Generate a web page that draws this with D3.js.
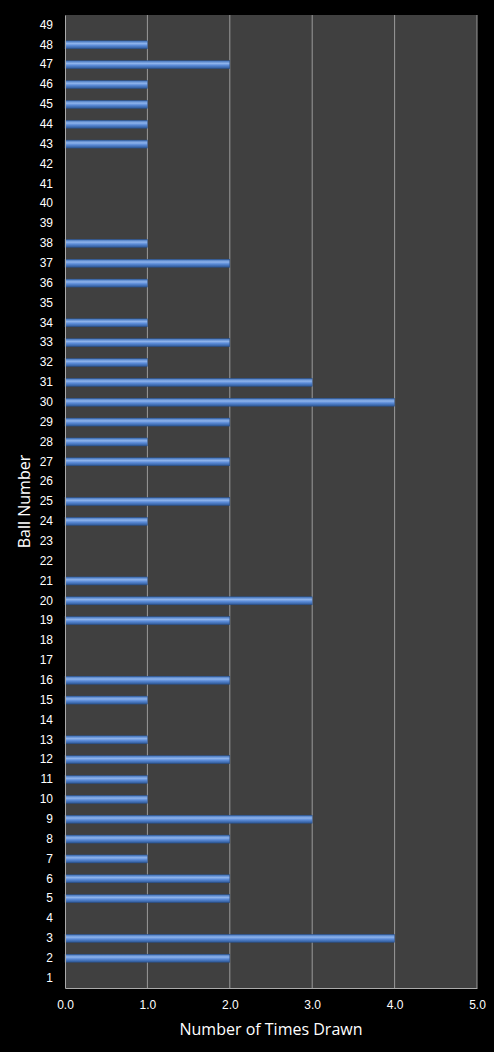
<!DOCTYPE html><html><head><script src="https://cdn.jsdelivr.net/npm/d3@7"></script>
<style>body{margin:0;background:#000}</style></head><body><svg id="c" width="494" height="1052"></svg>
<script>
const balls = d3.range(1,50);
const counts = [0,2,4,0,2,2,1,2,3,1,1,2,1,0,1,2,0,0,2,3,1,0,0,1,2,0,2,1,2,4,3,1,2,1,0,1,2,1,0,0,0,0,1,1,1,1,2,1,0];
const xTicks = [0,1,2,3,4,5];
const svg = d3.select("#c");
const m={l:65,r:477,t:15,b:988};
const x=d3.scaleLinear().domain([0,5]).range([m.l,m.r]);
const y=d3.scaleBand().domain(balls.slice().reverse()).range([m.t,m.b]);
const defs=svg.append("defs");
const g=defs.append("linearGradient").attr("id","bg").attr("x1",0).attr("x2",0).attr("y1",0).attr("y2",1);
g.append("stop").attr("offset","0%").attr("stop-color","#3d6fb8");
g.append("stop").attr("offset","35%").attr("stop-color","#8fb4ec");
g.append("stop").attr("offset","60%").attr("stop-color","#5a8ad6");
g.append("stop").attr("offset","100%").attr("stop-color","#2c5796");
svg.append("rect").attr("x",m.l).attr("y",m.t).attr("width",m.r-m.l).attr("height",m.b-m.t).attr("fill","#404040");
svg.selectAll(".gl").data(xTicks.slice(1)).join("line").attr("x1",d=>x(d)).attr("x2",d=>x(d)).attr("y1",m.t).attr("y2",m.b).attr("stroke","#9a9a9a").attr("stroke-width",1);
svg.selectAll(".bar").data(balls.filter((b,i)=>counts[i]>0)).join("rect")
 .attr("x",m.l).attr("y",d=>y(d)+y.bandwidth()/2-4).attr("height",8)
 .attr("width",d=>x(counts[d-1])-m.l).attr("fill","url(#bg)").attr("stroke","#2a4f86").attr("stroke-width",0.5);
const xa=svg.append("g").attr("transform",`translate(0,${m.b})`).call(d3.axisBottom(x).tickValues(xTicks).tickSize(0).tickPadding(12));
const ya=svg.append("g").attr("transform",`translate(${m.l},0)`).call(d3.axisLeft(y).tickSize(0).tickPadding(12));
[xa,ya].forEach(a=>{a.selectAll("text").attr("fill","#fff").style("font-family","Liberation Sans, Arial").style("font-size","12px");a.select(".domain").attr("stroke","#aaa");});
svg.append("text").attr("x",(m.l+m.r)/2).attr("y",1035).attr("text-anchor","middle").attr("fill","#fff").style("font-family","Open Sans, sans-serif").style("font-size","16px").text("Number of Times Drawn");
svg.append("text").attr("transform",`translate(30,${(m.t+m.b)/2}) rotate(-90)`).attr("text-anchor","middle").attr("fill","#fff").style("font-family","Open Sans, sans-serif").style("font-size","16px").text("Ball Number");
</script></body></html>
